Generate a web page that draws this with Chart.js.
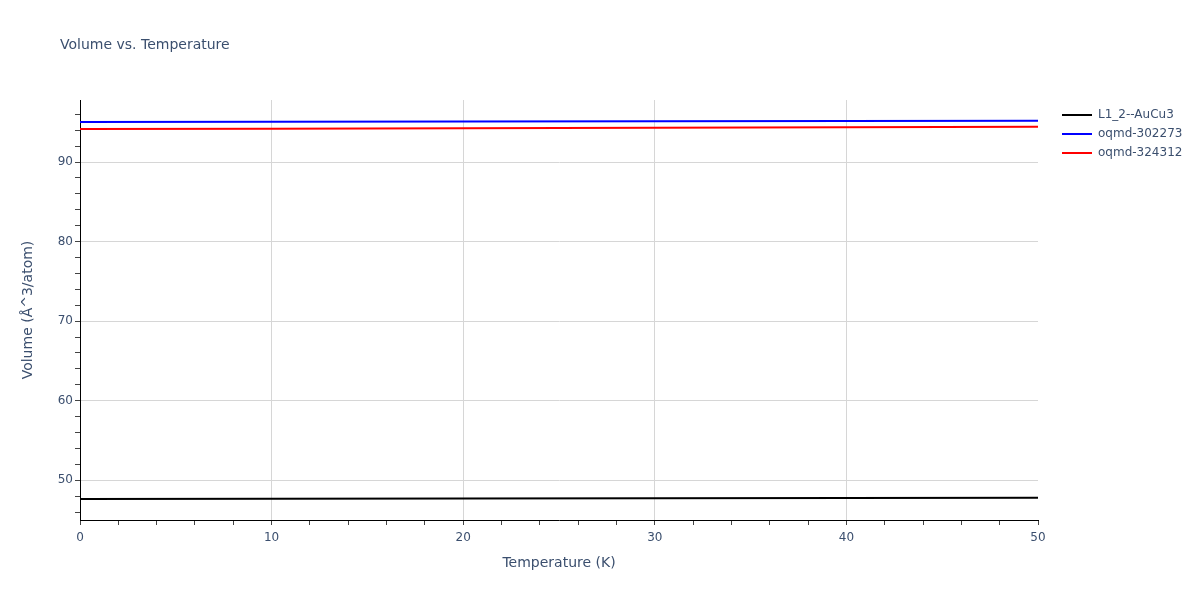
<!DOCTYPE html>
<html>
<head>
<meta charset="utf-8">
<title>Volume vs. Temperature</title>
<script src="https://cdn.jsdelivr.net/npm/chart.js@4.4.1/dist/chart.umd.min.js"></script>
<style>
    html, body { margin: 0; padding: 0; background: #fff; }
    #wrap { position: relative; width: 1200px; height: 600px; }
</style>
</head>
<body>
<div id="wrap"><canvas id="volumeChart" width="1200" height="600"></canvas></div>
<script>
// data
const temperatures = [0, 10, 20, 30, 40, 50];
const volAuCu3 = [47.65, 47.67, 47.70, 47.73, 47.76, 47.79];
const volOqmd302273 = [95.03, 95.06, 95.09, 95.12, 95.15, 95.19];
const volOqmd324312 = [94.15, 94.20, 94.26, 94.32, 94.38, 94.44];

const seriesNames = ['L1_2--AuCu3', 'oqmd-302273', 'oqmd-324312'];
const seriesColors = ['#000000', '#0000ff', '#ff0000'];

const xTicks = [0, 2, 4, 6, 8, 10, 12, 14, 16, 18, 20, 22, 24, 26, 28, 30, 32, 34, 36, 38, 40, 42, 44, 46, 48, 50];
const yTicks = [46, 48, 50, 52, 54, 56, 58, 60, 62, 64, 66, 68, 70, 72, 74, 76, 78, 80, 82, 84, 86, 88, 90, 92, 94, 96];

const chartTitle = 'Volume vs. Temperature';
const textColor = '#3b4f6e';
const fontFamily = '"DejaVu Sans", Verdana, sans-serif';

const isMajor = (v) => v % 10 === 0;

// title + legend drawn by hand, plotly style
const headerPlugin = {
    id: 'header',
    afterDraw(chart) {
        const ctx = chart.ctx;
        ctx.save();
        ctx.fillStyle = textColor;
        ctx.textBaseline = 'middle';
        ctx.font = '14px ' + fontFamily;
        ctx.fillText(chartTitle, 60, 45);

        ctx.font = '12px ' + fontFamily;
        chart.data.datasets.forEach((ds, i) => {
            const y = 115 + i * 19;
            ctx.strokeStyle = ds.borderColor;
            ctx.lineWidth = 2;
            ctx.beginPath();
            ctx.moveTo(1062, y);
            ctx.lineTo(1092, y);
            ctx.stroke();
            ctx.fillStyle = textColor;
            ctx.fillText(ds.label, 1098, y);
        });
        ctx.restore();
    }
};

const makeSet = (label, color, values) => ({
    label: label,
    data: temperatures.map((t, i) => ({ x: t, y: values[i] })),
    borderColor: color,
    backgroundColor: color,
    borderWidth: 2,
    pointRadius: 0,
    fill: false,
    tension: 0
});

new Chart(document.getElementById('volumeChart').getContext('2d'), {
    type: 'line',
    data: {
        datasets: [
            makeSet(seriesNames[0], seriesColors[0], volAuCu3),
            makeSet(seriesNames[1], seriesColors[1], volOqmd302273),
            makeSet(seriesNames[2], seriesColors[2], volOqmd324312)
        ]
    },
    options: {
        responsive: false,
        animation: false,
        layout: { padding: { top: 100, right: 162, bottom: 0, left: 0 } },
        plugins: {
            legend: { display: false },
            title: { display: false },
            tooltip: { enabled: false }
        },
        scales: {
            x: {
                type: 'linear',
                min: 0,
                max: 50,
                afterBuildTicks: (axis) => { axis.ticks = xTicks.map(v => ({ value: v })); },
                afterFit: (axis) => { axis.height = 80; },
                ticks: {
                    autoSkip: false,
                    maxRotation: 0,
                    padding: 6,
                    color: textColor,
                    font: { family: fontFamily, size: 12 },
                    callback: (v) => isMajor(v) ? String(v) : ''
                },
                grid: {
                    color: (c) => (c.tick && isMajor(c.tick.value) && c.tick.value > 0 && c.tick.value < 50) ? '#d6d6d6' : 'rgba(0,0,0,0)',
                    tickColor: '#444',
                    tickLength: 5,
                    lineWidth: 1
                },
                border: { display: true, color: '#000', width: 1 },
                title: {
                    display: true,
                    text: 'Temperature (K)',
                    color: textColor,
                    font: { family: fontFamily, size: 14 },
                    padding: { top: 0, bottom: 28 }
                }
            },
            y: {
                type: 'linear',
                min: 45,
                max: 97.8,
                afterBuildTicks: (axis) => { axis.ticks = yTicks.map(v => ({ value: v })); },
                afterFit: (axis) => { axis.width = 80; },
                ticks: {
                    autoSkip: false,
                    padding: 2,
                    color: textColor,
                    font: { family: fontFamily, size: 12 },
                    callback: (v) => isMajor(v) ? String(v) : ''
                },
                grid: {
                    color: (c) => (c.tick && isMajor(c.tick.value)) ? '#d6d6d6' : 'rgba(0,0,0,0)',
                    tickColor: '#444',
                    tickLength: 5,
                    lineWidth: 1
                },
                border: { display: true, color: '#000', width: 1 },
                title: {
                    display: true,
                    text: 'Volume (Å^3/atom)',
                    color: textColor,
                    font: { family: fontFamily, size: 14 },
                    padding: { top: 20, bottom: 0 }
                }
            }
        }
    },
    plugins: [headerPlugin]
});
</script>
</body>
</html>
